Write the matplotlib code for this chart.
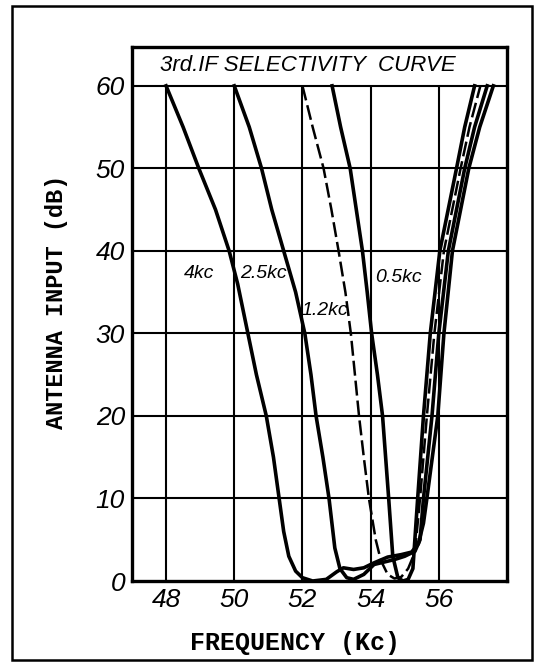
import matplotlib
matplotlib.use('Agg')
import matplotlib.pyplot as plt
from matplotlib.patches import Rectangle

# values (frequency in kc, antenna input in dB)
freq_4kc = [48.0, 48.5, 48.96, 49.45, 49.85, 50.1, 50.4, 50.65, 50.94, 51.15,
            51.3, 51.45, 51.6, 51.8, 52.0, 52.3, 52.7, 53.0, 53.2, 53.5, 53.8,
            54.1, 54.5, 54.9, 55.2, 55.4, 55.55, 55.65, 55.97, 56.15, 56.4,
            56.88, 57.2, 57.6]
db_4kc = [60, 55, 50, 45, 40, 36, 30, 25, 20, 15,
          10.5, 6, 3, 1.2, 0.4, 0, 0.2, 1.1, 1.6, 1.4, 1.6,
          2.2, 2.9, 3.2, 3.5, 4.5, 7, 10, 20, 30, 40,
          50, 55, 60]

freq_25kc = [50.0, 50.44, 50.8, 51.1, 51.45, 51.8, 52.07, 52.25, 52.4, 52.6,
             52.78, 52.95, 53.1, 53.3, 53.5, 53.8, 54.1, 54.4, 54.7, 55.0,
             55.3, 55.45, 55.55, 55.8, 56.0, 56.28, 56.76, 57.05, 57.42]
db_25kc = [60, 55, 50, 45, 40, 35, 30, 25, 20, 15,
           10, 4, 1.5, 0.4, 0.2, 0.8, 2.0, 2.3, 2.6, 3.0,
           3.6, 5, 10, 20, 30, 40, 50, 55, 60]

freq_12kc = [52.0, 52.3, 52.62, 52.85, 53.06, 53.26, 53.42, 53.54, 53.66, 53.8,
             53.95, 54.15, 54.3, 54.5, 54.7, 54.9, 55.1, 55.3, 55.45, 55.65,
             55.87, 56.15, 56.64, 56.9, 57.22]
db_12kc = [60, 55, 50, 45, 40, 35, 30, 25, 20, 15,
           10, 5, 2.5, 0.8, 0.3, 0.5, 1.5, 3.5, 10, 20,
           30, 40, 50, 55, 60]

freq_05kc = [52.87, 53.12, 53.4, 53.58, 53.76, 53.9, 54.03, 54.2, 54.35, 54.44,
             54.53, 54.65, 54.8, 54.95, 55.1, 55.24, 55.38, 55.55, 55.75,
             56.03, 56.52, 56.76, 57.05]
db_05kc = [60, 55, 50, 45, 40, 35, 30, 25, 20, 15,
           10, 3, 0.4, 0, 0.2, 1.5, 10, 20, 30,
           40, 50, 55, 60]

x_ticks = [48, 50, 52, 54, 56]
y_ticks = [0, 10, 20, 30, 40, 50, 60]

sans = ['Liberation Sans', 'DejaVu Sans']
mono = ['Liberation Mono', 'DejaVu Sans Mono']

fig = plt.figure(figsize=(5.42, 6.65), dpi=100)
ax = fig.add_axes([0.2435, 0.1263, 0.6919, 0.803])

ax.set_xlim(47, 58)
ax.set_ylim(0, 64.7)

# grid: verticals stop at 60, the band above holds the title
ax.vlines(x_ticks, 0, 60, color='black', lw=1.5, zorder=1)
for y in y_ticks[1:]:
    ax.axhline(y, color='black', lw=1.5, zorder=1)

lw = 2.6
ax.plot(freq_4kc, db_4kc, color='black', lw=lw, zorder=3)
ax.plot(freq_25kc, db_25kc, color='black', lw=lw, zorder=3)
ax.plot(freq_12kc, db_12kc, color='black', lw=1.8, ls=(0, (6, 2)), zorder=3)
ax.plot(freq_05kc, db_05kc, color='black', lw=lw, zorder=3)

for s in ax.spines.values():
    s.set_linewidth(2.4)

ax.set_xticks(x_ticks)
ax.set_yticks(y_ticks)
ax.tick_params(length=0, pad=5)
for lab in ax.get_xticklabels() + ax.get_yticklabels():
    lab.set_fontfamily(sans)
    lab.set_fontstyle('italic')
    lab.set_fontsize(19)

ax.text(47.83, 62.4, '3rd.IF SELECTIVITY  CURVE', family=sans, style='italic',
        fontsize=16, ha='left', va='center')

lab_kw = dict(family=sans, style='italic', fontsize=14, ha='center', va='center',
              zorder=4)
ax.text(48.96, 37.3, '4kc', **lab_kw)
ax.text(50.85, 37.3, '2.5kc', **lab_kw)
ax.text(52.66, 32.8, '1.2kc', **lab_kw)
ax.text(54.83, 36.8, '0.5kc', **lab_kw)

fig.text(295 / 542, 1 - 643 / 665, 'FREQUENCY (Kc)', family=mono, weight='bold',
         fontsize=18, ha='center', va='center')
fig.text(57 / 542, 1 - 302 / 665, 'ANTENNA INPUT (dB)', family=mono, weight='bold',
         fontsize=17, ha='center', va='center', rotation=90)

# outer frame around the whole figure
fig.patches.append(Rectangle((12 / 542, 1 - 660 / 665), 520 / 542, 654 / 665,
                             transform=fig.transFigure, fill=False,
                             edgecolor='black', lw=1.8))

fig.savefig('out.png', dpi=100)
